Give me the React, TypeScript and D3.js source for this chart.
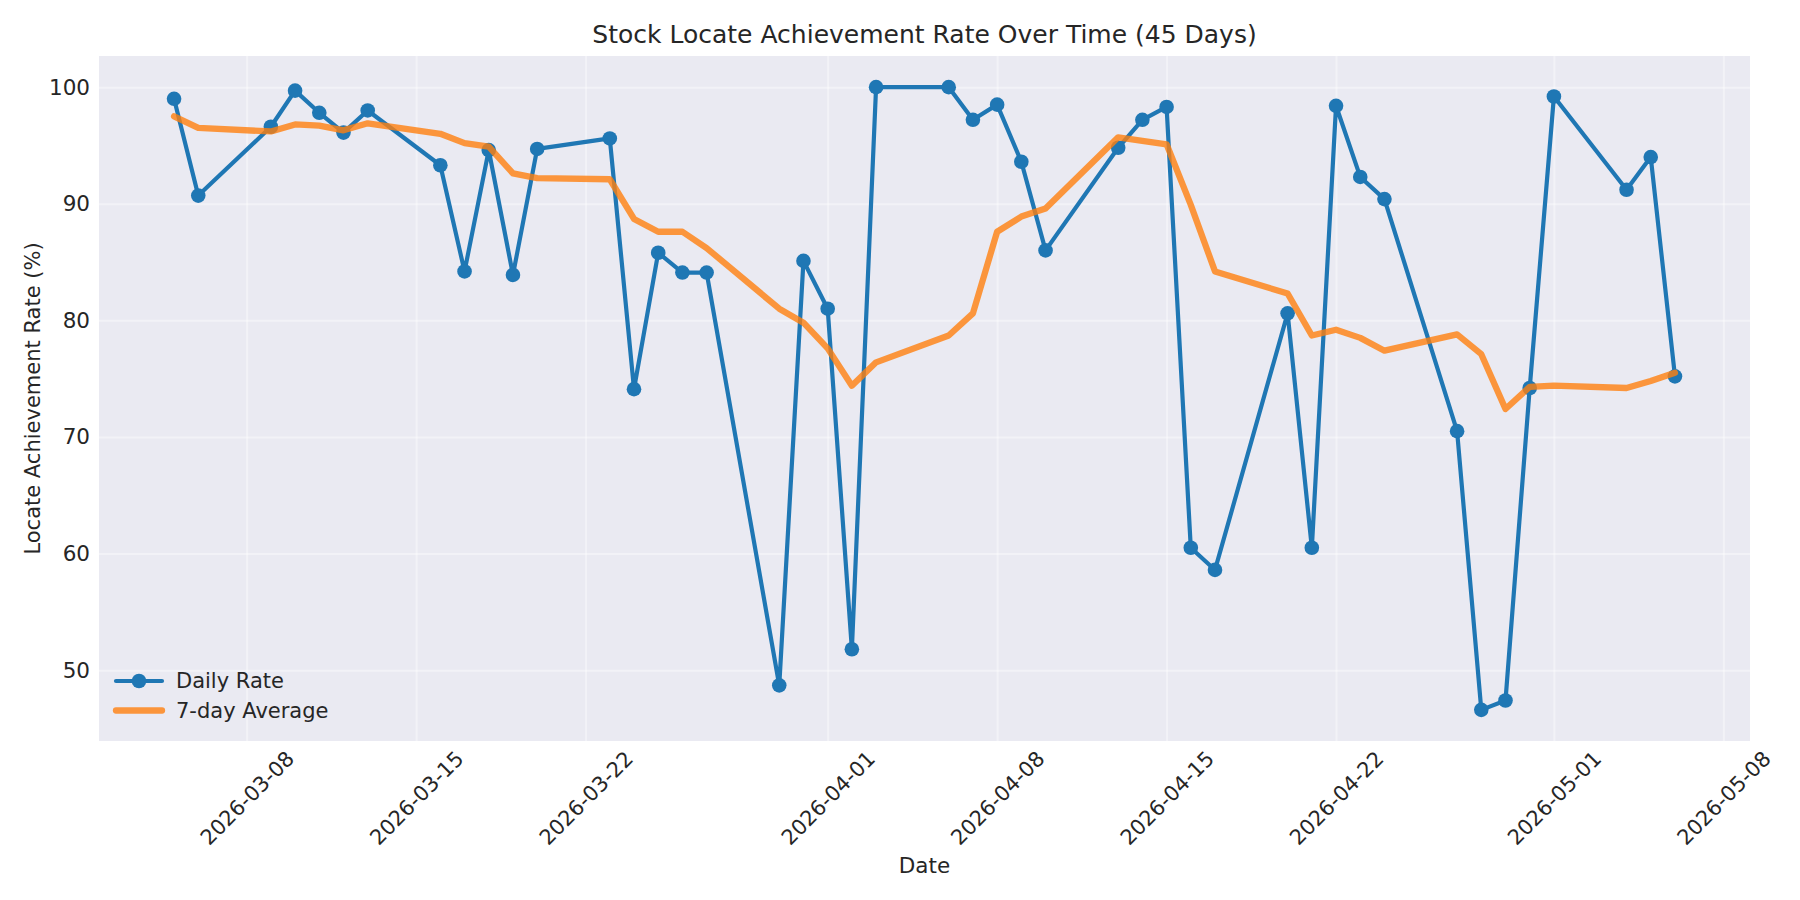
import * as React from 'react';
import {scaleUtc as d3ScaleUtc, scaleLinear as d3ScaleLinear, line as d3Line, select as d3Select,
        axisBottom, axisLeft, utcFormat} from 'd3';

// Trading days (weekdays only)
const dates = [
  '2026-03-05', '2026-03-06', '2026-03-09', '2026-03-10', '2026-03-11', '2026-03-12', '2026-03-13',
  '2026-03-16', '2026-03-17', '2026-03-18', '2026-03-19', '2026-03-20', '2026-03-23', '2026-03-24',
  '2026-03-25', '2026-03-26', '2026-03-27', '2026-03-30', '2026-03-31', '2026-04-01', '2026-04-02',
  '2026-04-03', '2026-04-06', '2026-04-07', '2026-04-08', '2026-04-09', '2026-04-10', '2026-04-13',
  '2026-04-14', '2026-04-15', '2026-04-16', '2026-04-17', '2026-04-20', '2026-04-21', '2026-04-22',
  '2026-04-23', '2026-04-24', '2026-04-27', '2026-04-28', '2026-04-29', '2026-04-30', '2026-05-01',
  '2026-05-04', '2026-05-05', '2026-05-06',
];

const dailyRate = [
  99.0, 90.7, 96.6, 99.7, 97.8, 96.1, 98.0,
  93.3, 84.2, 94.6, 83.9, 94.7, 95.6, 74.1,
  85.8, 84.1, 84.1, 48.7, 85.1, 81.0, 51.8,
  100.0, 100.0, 97.2, 98.5, 93.6, 86.0, 94.8,
  97.2, 98.3, 60.5, 58.6, 80.6, 60.5, 98.4,
  92.3, 90.4, 70.5, 46.6, 47.4, 74.2, 99.2,
  91.2, 94.0, 75.2,
];

const sevenDayAvg = [
  97.5, 96.5, 96.2, 96.8, 96.7, 96.3, 96.9,
  96.0, 95.2, 94.9, 92.6, 92.2, 92.1, 88.7,
  87.6, 87.6, 86.2, 81.0, 79.8, 77.6, 74.4,
  76.4, 78.7, 80.6, 87.6, 88.9, 89.6, 95.7,
  95.4, 95.1, 89.9, 84.2, 82.3, 78.7, 79.2,
  78.5, 77.4, 78.8, 77.1, 72.4, 74.3, 74.4,
  74.2, 74.8, 75.5,
];

const xTickLabels = [
  '2026-03-08', '2026-03-15', '2026-03-22', '2026-04-01', '2026-04-08',
  '2026-04-15', '2026-04-22', '2026-05-01', '2026-05-08',
];
const yTicks = [50, 60, 70, 80, 90, 100];

const BLUE = '#1f77b4';
const ORANGE = '#ff7f0e';
const TEXT = '#262626';
const FONT = '"DejaVu Sans", Verdana, sans-serif';

export default class App extends React.Component<{}, {}> {
  private _svgRef = React.createRef<SVGSVGElement>();

  public componentDidMount() {
    this._draw();
  }

  private _draw() {
    const svgNode = this._svgRef.current;
    if (!svgNode) {
      return;
    }
    const svg = d3Select(svgNode);
    svg.selectAll('*').remove();

    const width = 1800;
    const height = 900;
    const margins = {left: 99, right: 50, top: 56, bottom: 159};
    const plotWidth = width - margins.left - margins.right;
    const plotHeight = height - margins.top - margins.bottom;

    const parsed = dates.map((d) => new Date(d + 'T00:00:00Z'));
    const tMin = parsed[0].getTime();
    const tMax = parsed[parsed.length - 1].getTime();
    const tPad = (tMax - tMin) * 0.05;
    const allY = dailyRate.concat(sevenDayAvg);
    const yMin = Math.min(...allY);
    const yMax = Math.max(...allY);
    const yPad = (yMax - yMin) * 0.05;

    const x = d3ScaleUtc()
      .domain([new Date(tMin - tPad), new Date(tMax + tPad)])
      .range([0, plotWidth]);
    const y = d3ScaleLinear()
      .domain([yMin - yPad, yMax + yPad])
      .range([plotHeight, 0]);

    const tickDates = xTickLabels.map((d) => new Date(d + 'T00:00:00Z'));

    const g = svg.append('g').attr('transform', `translate(${margins.left}, ${margins.top})`);

    // Plot background
    g.append('rect')
      .attr('width', plotWidth)
      .attr('height', plotHeight)
      .attr('fill', '#eaeaf2');

    // Grid lines (faint white, matplotlib grid alpha)
    const xGrid = g.append('g')
      .attr('transform', `translate(0, ${plotHeight})`)
      .call(axisBottom(x).tickValues(tickDates).tickSize(-plotHeight).tickFormat(() => ''));
    const yGrid = g.append('g')
      .call(axisLeft(y).tickValues(yTicks).tickSize(-plotWidth).tickFormat(() => ''));
    [xGrid, yGrid].forEach((grid) => {
      grid.select('.domain').remove();
      grid.selectAll('line').attr('stroke', '#ffffff').attr('stroke-opacity', 0.4).attr('stroke-width', 2);
    });

    const data = parsed.map((d, i) => ({date: d, rate: dailyRate[i], avg: sevenDayAvg[i]}));

    const rateLine = d3Line<any>()
      .x((d) => x(d.date))
      .y((d) => y(d.rate));
    const avgLine = d3Line<any>()
      .x((d) => x(d.date))
      .y((d) => y(d.avg));

    g.append('path')
      .datum(data)
      .attr('d', rateLine)
      .attr('fill', 'none')
      .attr('stroke', BLUE)
      .attr('stroke-width', 4.2)
      .attr('stroke-linejoin', 'round')
      .attr('stroke-linecap', 'round');

    g.selectAll('circle.rate')
      .data(data)
      .enter()
      .append('circle')
      .attr('class', 'rate')
      .attr('r', 7.3)
      .attr('cx', (d) => x(d.date))
      .attr('cy', (d) => y(d.rate))
      .attr('fill', BLUE);

    g.append('path')
      .datum(data)
      .attr('d', avgLine)
      .attr('fill', 'none')
      .attr('stroke', ORANGE)
      .attr('stroke-opacity', 0.8)
      .attr('stroke-width', 6.3)
      .attr('stroke-linejoin', 'round')
      .attr('stroke-linecap', 'round');

    // X axis labels (rotated 45deg, centred on the tick)
    const fmt = utcFormat('%Y-%m-%d');
    const xAxis = g.append('g')
      .attr('transform', `translate(0, ${plotHeight})`)
      .call(axisBottom(x).tickValues(tickDates).tickSize(0).tickFormat((d) => fmt(d as Date)));
    xAxis.select('.domain').remove();
    xAxis.selectAll('text')
      .attr('y', 0)
      .attr('dy', '0.35em')
      .attr('transform', 'translate(0, 57) rotate(-45)')
      .style('text-anchor', 'middle')
      .style('font-family', FONT)
      .style('font-size', '21px')
      .attr('fill', TEXT);

    // Y axis labels
    const yAxis = g.append('g')
      .call(axisLeft(y).tickValues(yTicks).tickSize(0).tickPadding(9));
    yAxis.select('.domain').remove();
    yAxis.selectAll('text')
      .style('font-family', FONT)
      .style('font-size', '21.5px')
      .attr('fill', TEXT);

    // Axis titles
    svg.append('text')
      .attr('x', margins.left + plotWidth / 2)
      .attr('y', 873)
      .style('text-anchor', 'middle')
      .style('font-family', FONT)
      .style('font-size', '21.5px')
      .attr('fill', TEXT)
      .text('Date');

    svg.append('text')
      .attr('transform', `translate(33, ${margins.top + plotHeight / 2}) rotate(-90)`)
      .attr('dy', '0.35em')
      .style('text-anchor', 'middle')
      .style('font-family', FONT)
      .style('font-size', '21px')
      .attr('fill', TEXT)
      .text('Locate Achievement Rate (%)');

    // Title
    svg.append('text')
      .attr('x', margins.left + plotWidth / 2)
      .attr('y', 43)
      .style('text-anchor', 'middle')
      .style('font-family', FONT)
      .style('font-size', '25px')
      .attr('fill', TEXT)
      .text('Stock Locate Achievement Rate Over Time (45 Days)');

    // Legend, lower left
    const legend = svg.append('g').attr('transform', 'translate(116, 681)');
    legend.append('line')
      .attr('x1', 0).attr('x2', 46).attr('y1', 0).attr('y2', 0)
      .attr('stroke', BLUE).attr('stroke-width', 4.2).attr('stroke-linecap', 'round');
    legend.append('circle')
      .attr('cx', 23).attr('cy', 0).attr('r', 7.3).attr('fill', BLUE);
    legend.append('line')
      .attr('x1', 0).attr('x2', 46).attr('y1', 29.5).attr('y2', 29.5)
      .attr('stroke', ORANGE).attr('stroke-opacity', 0.8).attr('stroke-width', 6.3)
      .attr('stroke-linecap', 'round');
    [['Daily Rate', 0], ['7-day Average', 29.5]].forEach(([label, dy]) => {
      legend.append('text')
        .attr('x', 60)
        .attr('y', dy as number)
        .attr('dy', '0.35em')
        .style('font-family', FONT)
        .style('font-size', '21px')
        .attr('fill', TEXT)
        .text(label as string);
    });
  }

  public render() {
    return <svg ref={this._svgRef} width={1800} height={900}
      style={{position: 'absolute', left: 0, top: 0, display: 'block', background: '#ffffff'}} />;
  }
}
